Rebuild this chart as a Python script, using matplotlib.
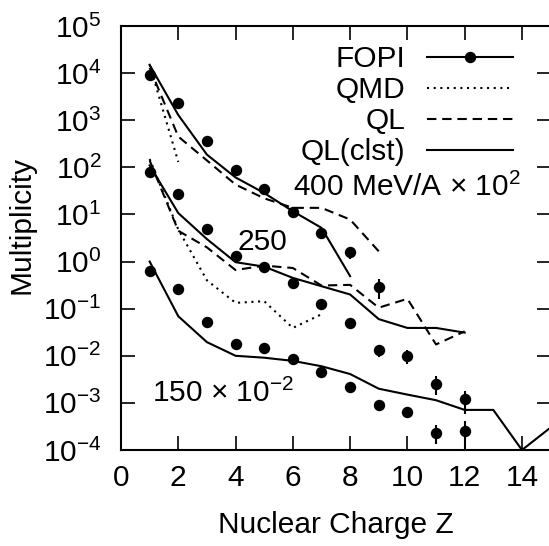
import matplotlib as mpl
mpl.use('agg')
import matplotlib.pyplot as plt
from matplotlib.lines import Line2D
import numpy as np

plt.rcParams['font.family'] = ['Liberation Sans', 'DejaVu Sans']
plt.rcParams['mathtext.fontset'] = 'custom'
plt.rcParams['mathtext.rm'] = 'Liberation Sans'
plt.rcParams['mathtext.it'] = 'Liberation Sans:italic'
plt.rcParams['mathtext.default'] = 'regular'
plt.rcParams['axes.unicode_minus'] = False

fs = 21.5

# FOPI multiplicities (400 MeV/A scaled by 1e2, 150 MeV/A scaled by 1e-2)
z400 = [1, 2, 3, 4, 5, 6, 7, 8, 9]
fopi400 = [9100, 2300, 360, 89, 34, 11, 4.1, 1.57, 0.29]
err400 = [0, 0, 0, 0, 0, 0, 1.0, 0.45, 0.13]

z250 = [1, 2, 3, 4, 5, 6, 7, 8, 9, 10, 11, 12]
fopi250 = [78, 27, 4.8, 1.34, 0.77, 0.354, 0.127, 0.0485, 0.0132, 0.0099, 0.00257, 0.00119]
err250 = [0, 0, 0, 0, 0, 0, 0, 0, 0.004, 0.0033, 0.0011, 0.0006]

z150 = [1, 2, 3, 4, 5, 6, 7, 8, 9, 10, 11, 12]
fopi150 = [0.62, 0.268, 0.053, 0.018, 0.0144, 0.0087, 0.0045, 0.00217, 0.00089, 0.00065, 0.000234, 0.000254]
err150 = [0, 0, 0, 0, 0, 0, 0, 0, 0.0002, 0.00015, 0.0001, 0.00016]

# model curves
qmd400_z = [1, 2]
qmd400 = [15000, 130]
ql400_z = [1, 2, 3, 4, 5, 6, 7, 8, 9]
ql400 = [13000, 450, 140, 43, 22, 13.8, 13.8, 7.8, 1.65]
clst400_z = [1, 2, 3, 4, 5, 6, 7, 8]
clst400 = [15000, 1290, 186, 61, 28.5, 11.7, 5.2, 0.49]

qmd250_z = [1, 2, 3, 4, 5, 6, 7]
qmd250 = [150, 4.8, 0.4, 0.133, 0.144, 0.039, 0.076]
ql250_z = [1, 2, 3, 4, 5, 6, 7, 8, 9, 10, 11, 12]
ql250 = [140, 4.5, 2.0, 0.66, 0.82, 0.73, 0.31, 0.32, 0.105, 0.162, 0.0174, 0.033]
clst250_z = [1, 2, 3, 4, 5, 6, 7, 8, 9, 10, 11, 12]
clst250 = [110, 10.7, 3.0, 0.97, 0.78, 0.45, 0.30, 0.20, 0.06, 0.039, 0.039, 0.031]

clst150_z = [1, 2, 3, 4, 5, 6, 7, 8, 9, 10, 11, 12, 13, 14, 15]
clst150 = [1.0, 0.069, 0.0195, 0.0100, 0.0091, 0.0078, 0.006, 0.0041, 0.0020,
           0.0015, 0.00114, 0.00071, 0.00071, 0.0001, 0.0003]

lw = 1.5
dotted = (0, (1.0, 2.2))
dashed = (0, (4.5, 2.8))

fig = plt.figure(figsize=(5.49, 5.46), dpi=100)
ax = fig.add_axes([0.2204, 0.1758, 0.7825, 0.7766])

for z, y in [(qmd400_z, qmd400), (qmd250_z, qmd250)]:
    ax.plot(z, y, color='k', lw=lw, linestyle=dotted)
for z, y in [(ql400_z, ql400), (ql250_z, ql250)]:
    ax.plot(z, y, color='k', lw=lw, linestyle=dashed)
for z, y in [(clst400_z, clst400), (clst250_z, clst250), (clst150_z, clst150)]:
    ax.plot(z, y, color='k', lw=lw, linestyle='-')

for z, y, e in [(z400, fopi400, err400), (z250, fopi250, err250), (z150, fopi150, err150)]:
    y = np.array(y); e = np.array(e)
    lo = np.minimum(e, y * 0.999)
    ax.errorbar(z, y, yerr=[lo, e], fmt='o', color='k', ms=7.2, elinewidth=lw,
                capsize=0)

ax.set_yscale('log')
ax.set_xlim(0, 15)
ax.set_ylim(1e-4, 1e5)
ax.set_xticks(range(0, 15, 2))
ax.set_yticks([10.0**k for k in range(-4, 6)])
ax.set_yticklabels(['10$^{%d}$' % k for k in range(-4, 6)])
ax.yaxis.set_minor_locator(mpl.ticker.NullLocator())
ax.tick_params(which='major', direction='in', length=10, width=1.2,
               top=True, right=True, labelsize=fs)
ax.tick_params(axis='x', pad=10)
ax.tick_params(axis='y', pad=14)
for s in ax.spines.values():
    s.set_linewidth(1.5)

ax.set_xlabel('Nuclear Charge Z', fontsize=fs)
ax.set_ylabel('Multiplicity', fontsize=fs)
ax.yaxis.set_label_coords(-0.2, 0.53)
ax.xaxis.set_label_coords(0.5, -0.145)

ax.text(4.08, 1.8, '250', fontsize=fs, ha='left', va='baseline')
ax.text(1.07, 1.02e-3, r'150 $\times$ 10$^{-2}$', fontsize=fs, ha='left', va='baseline')
ax.text(6.0, 24.2, r'400 MeV/A $\times$ 10$^{2}$', fontsize=fs, ha='left', va='baseline')

handles = [
    Line2D([], [], color='k', lw=lw, marker='o', ms=7.2),
    Line2D([], [], color='k', lw=lw, linestyle=dotted),
    Line2D([], [], color='k', lw=lw, linestyle=dashed),
    Line2D([], [], color='k', lw=lw, linestyle='-'),
]
labels = ['FOPI', 'QMD', 'QL', 'QL(clst)']
ax.legend(handles, labels, loc='upper right', bbox_to_anchor=(0.913, 0.955),
          frameon=False, markerfirst=False, numpoints=1, fontsize=fs,
          handlelength=2.9, handletextpad=0.72, labelspacing=0.1,
          borderpad=0, borderaxespad=0)

plt.savefig('out.png', dpi=100)
